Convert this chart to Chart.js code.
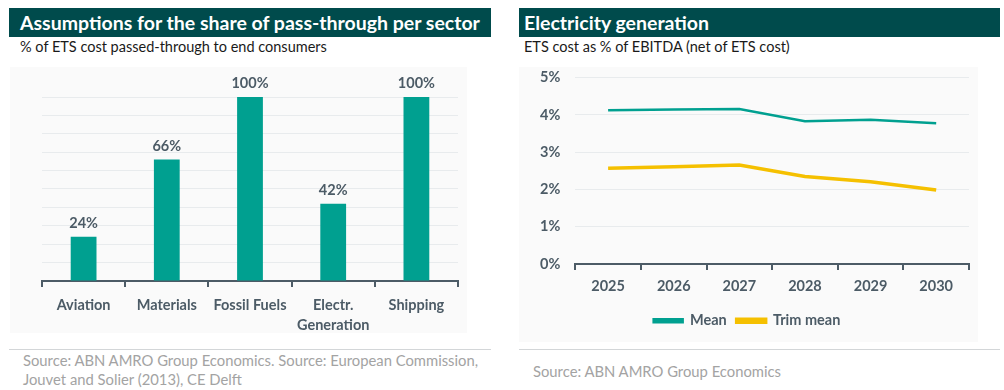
<!DOCTYPE html>
<html>
<head>
<meta charset="utf-8">
<script src="https://cdn.jsdelivr.net/npm/chart.js@4.4.1/dist/chart.umd.min.js"></script>
<style>
  body { margin:0; width:1004px; height:390px; background:#fff; font-family:Lato, sans-serif; position:relative; overflow:hidden; }
  .head { position:absolute; top:8px; height:29px; background:#004b4c; color:#fff; font-weight:bold; font-size:19.5px; line-height:29px; box-sizing:border-box; white-space:nowrap; }
  .sub { position:absolute; top:38px; font-size:14.5px; color:#1a1a1a; line-height:18px; white-space:nowrap; }
  .box { position:absolute; background:#fafafa; }
  .wrap { position:absolute; }
  .sep { position:absolute; top:349px; height:1px; background:#d3d6d8; }
  .src { position:absolute; font-size:14.8px; color:#a3a3a3; line-height:19px; white-space:nowrap; }
</style>
</head>
<body>
<div class="head" style="left:9px;width:482px;padding-left:11px">Assumptions for the share of pass-through per sector</div>
<div class="sub" style="left:20px">% of ETS cost passed-through to end consumers</div>
<div class="box" style="left:10px;top:67px;width:457px;height:266px"></div>
<div class="wrap" style="left:10px;top:67px;width:457px;height:276px"><canvas id="bars"></canvas></div>
<div class="sep" style="left:9px;width:482px"></div>
<div class="src" style="left:23px;top:351px">Source: ABN AMRO Group Economics. Source: European Commission,<br>Jouvet and Solier (2013), CE Delft</div>

<div class="head" style="left:519px;width:481px;padding-left:5px">Electricity generation</div>
<div class="sub" style="left:524px">ETS cost as % of EBITDA (net of ETS cost)</div>
<div class="box" style="left:519px;top:67px;width:459px;height:275px"></div>
<div class="wrap" style="left:519px;top:54px;width:459px;height:288px"><canvas id="lines"></canvas></div>
<div class="sep" style="left:519px;width:481px"></div>
<div class="src" style="left:533px;top:362px">Source: ABN AMRO Group Economics</div>

<script>
// ---------- data ----------
const sectors = ['Aviation', 'Materials', 'Fossil Fuels', ['Electr.', 'Generation'], 'Shipping'];
const passThrough = [24, 66, 100, 42, 100];

const years = ['2025', '2026', '2027', '2028', '2029', '2030'];
const meanVals = [4.13, 4.15, 4.16, 3.83, 3.87, 3.78];
const trimVals = [2.57, 2.61, 2.66, 2.35, 2.21, 1.99];

const TEAL = '#00a090';
const YELLOW = '#f5c000';
const AXIS = '#4c5b66';
const GRID = '#e8ebed';

Chart.defaults.font.family = 'Lato, sans-serif';
Chart.defaults.color = AXIS;
Chart.defaults.animation = false;

// labels above bars
const barLabels = {
  id: 'barLabels',
  afterDatasetsDraw(chart) {
    const ctx = chart.ctx;
    const meta = chart.getDatasetMeta(0);
    ctx.save();
    ctx.font = 'bold 14.5px Lato, sans-serif';
    ctx.fillStyle = AXIS;
    ctx.textAlign = 'center';
    ctx.textBaseline = 'bottom';
    meta.data.forEach((bar, i) => {
      ctx.fillText(passThrough[i] + '%', bar.x, bar.y - 6);
    });
    ctx.restore();
  }
};

new Chart(document.getElementById('bars'), {
  type: 'bar',
  data: {
    labels: sectors,
    datasets: [{ data: passThrough, backgroundColor: TEAL, barPercentage: 0.62, categoryPercentage: 0.5 }]
  },
  options: {
    responsive: true,
    maintainAspectRatio: false,
    layout: { padding: { left: 32, right: 9, top: 30, bottom: 0 } },
    plugins: { legend: { display: false }, tooltip: { enabled: false } },
    scales: {
      x: {
        offset: true,
        grid: { offset: true, drawOnChartArea: false, drawTicks: true, tickLength: 6, color: AXIS, lineWidth: 2 },
        border: { color: AXIS, width: 2 },
        ticks: { font: { size: 14.5, weight: 'bold', lineHeight: 1.38 }, color: AXIS, padding: 8, maxRotation: 0, autoSkip: false }
      },
      y: {
        min: 0, max: 100,
        ticks: { display: false, stepSize: 10 },
        grid: { color: GRID, drawTicks: false, lineWidth: 1 },
        border: { display: false }
      }
    }
  },
  plugins: [barLabels]
});

new Chart(document.getElementById('lines'), {
  type: 'line',
  data: {
    labels: years,
    datasets: [
      { label: 'Mean', data: meanVals, borderColor: TEAL, backgroundColor: TEAL, borderWidth: 2.5, pointRadius: 0, tension: 0 },
      { label: 'Trim mean', data: trimVals, borderColor: YELLOW, backgroundColor: YELLOW, borderWidth: 3.5, pointRadius: 0, tension: 0 }
    ]
  },
  options: {
    responsive: true,
    maintainAspectRatio: false,
    layout: { padding: { left: 6, right: 9, top: 0, bottom: 4 } },
    plugins: {
      tooltip: { enabled: false },
      legend: {
        position: 'bottom',
        labels: { boxWidth: 29, boxHeight: 3, padding: 10, color: AXIS, font: { size: 14.5, weight: 'bold' } }
      }
    },
    scales: {
      x: {
        offset: true,
        grid: { offset: true, drawOnChartArea: false, drawTicks: true, tickLength: 6, color: AXIS, lineWidth: 2 },
        border: { color: AXIS, width: 2 },
        ticks: { font: { size: 14.5, weight: 'bold' }, color: AXIS, padding: 8 }
      },
      y: {
        min: 0, max: 5,
        ticks: { stepSize: 1, callback: v => v + '%', font: { size: 14.5, weight: 'bold' }, color: AXIS, padding: 15 },
        grid: { color: GRID, drawTicks: false },
        border: { display: false }
      }
    }
  }
});
</script>
</body>
</html>
